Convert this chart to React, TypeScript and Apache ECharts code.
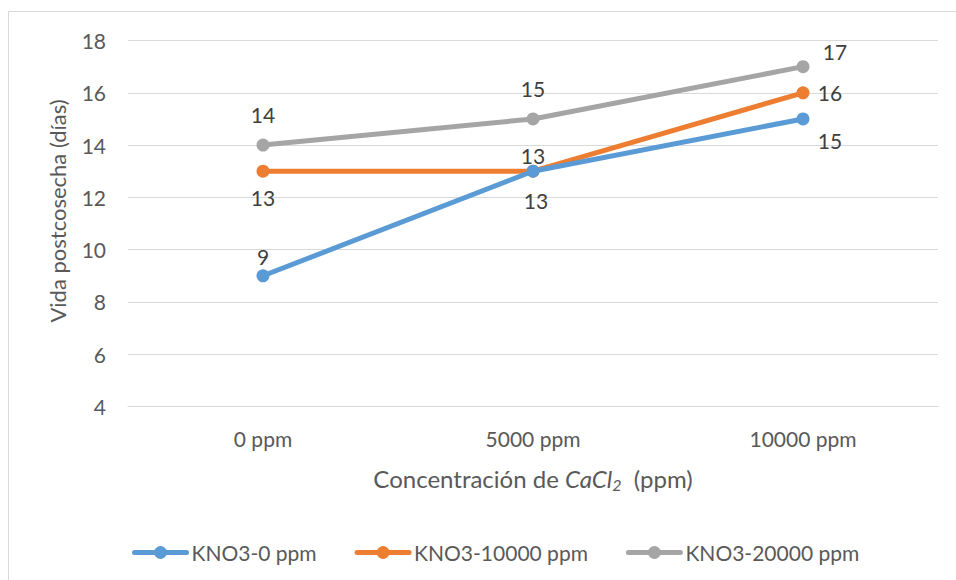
import React, { useEffect, useRef } from "react";
import * as echarts from "echarts";

const categories = ["0 ppm", "5000 ppm", "10000 ppm"];
const seriesNames = ["KNO3-0 ppm", "KNO3-10000 ppm", "KNO3-20000 ppm"];
const kno3_0 = [9, 13, 15];
const kno3_10000 = [13, 13, 16];
const kno3_20000 = [14, 15, 17];
const yTicks = [4, 6, 8, 10, 12, 14, 16, 18];

const colors = ["#5B9BD5", "#ED7D31", "#A5A5A5"];
// label offsets (style only): [dx, dy] from each point
const labelOffsets = [
  [[0, -19], [3, 29], [27, 22]],
  [[0, 26], [0, -16], [27, 0]],
  [[0, -31], [0, -30], [32, -15]],
];

const FONT = "Lato, 'Open Sans', sans-serif";

export default function App() {
  const ref = useRef<HTMLDivElement>(null);
  useEffect(() => {
    if (!ref.current) return;
    const chart = echarts.init(ref.current, undefined, { renderer: "svg" });
    const allValues = [kno3_0, kno3_10000, kno3_20000];
    chart.setOption({
      animation: false,
      backgroundColor: "#ffffff",
      textStyle: { fontFamily: FONT },
      grid: { left: 128, right: 18, top: 40.5, bottom: 173.5, containLabel: false },
      legend: {
        left: 127,
        top: 537,
        itemWidth: 52,
        itemHeight: 16,
        itemGap: 38,
        lineStyle: { width: 5 },
        textStyle: { fontFamily: FONT, fontSize: 21, color: "#595959" },
        data: seriesNames,
      },
      xAxis: {
        type: "category",
        data: categories,
        boundaryGap: true,
        axisLine: { show: true, lineStyle: { color: "#d9d9d9", width: 1 } },
        axisTick: { show: false },
        axisLabel: { fontFamily: FONT, fontSize: 21, color: "#595959", margin: 21 },
      },
      yAxis: {
        type: "value",
        min: yTicks[0],
        max: yTicks[yTicks.length - 1],
        interval: 2,
        axisLine: { show: false },
        axisTick: { show: false },
        splitLine: { lineStyle: { color: "#d9d9d9", width: 1 } },
        axisLabel: { fontFamily: FONT, fontSize: 21, color: "#595959", margin: 22 },
      },
      graphic: [
        {
          type: "rect",
          silent: true,
          shape: { x: 8.5, y: 11.5, width: 1000, height: 1000 },
          style: { fill: "none", stroke: "#d9d9d9", lineWidth: 1 },
        },
        {
          type: "text",
          x: 57,
          y: 211,
          rotation: Math.PI / 2,
          style: {
            text: "Vida postcosecha (días)",
            fontFamily: FONT,
            fontSize: 22,
            fill: "#595959",
            align: "center",
            verticalAlign: "middle",
          },
        },
        {
          type: "text",
          x: 533,
          y: 478,
          style: {
            text: "{n|Concentración de }{i|CaCl}{s|2}{n|  (ppm)}",
            fontFamily: FONT,
            fontSize: 24,
            fill: "#595959",
            align: "center",
            verticalAlign: "middle",
            rich: {
              n: { fontFamily: FONT, fontSize: 24, fill: "#595959" },
              i: { fontFamily: FONT, fontSize: 24, fontStyle: "italic", fill: "#595959" },
              s: { fontFamily: FONT, fontSize: 16, fontStyle: "italic", fill: "#595959", padding: [12, 0, 0, 0] },
            },
          },
        },
      ],
      series: allValues.map((vals, si) => ({
        name: seriesNames[si],
        type: "line",
        data: vals.map((v, i) => ({
          value: v,
          label: { offset: labelOffsets[si][i] },
        })),
        color: colors[si],
        symbol: "circle",
        symbolSize: 13,
        lineStyle: { width: 5, color: colors[si], cap: "round" },
        itemStyle: { color: colors[si] },
        z: 2 + (2 - si),
        label: {
          show: true,
          position: ["50%", "50%"],
          align: "center",
          verticalAlign: "middle",
          fontFamily: FONT,
          fontSize: 21,
          color: "#404040",
        },
      })),
    });
    return () => chart.dispose();
  }, []);
  return (
    <div
      ref={ref}
      style={{ position: "fixed", left: 0, top: 0, width: 956, height: 580 }}
    />
  );
}
